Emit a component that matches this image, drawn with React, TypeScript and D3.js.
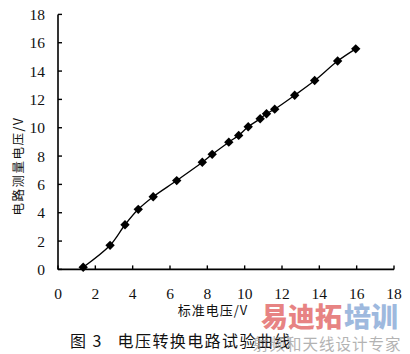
import React from "react";
import * as d3 from "d3";

const xValues = [1.35, 2.79, 3.59, 4.3, 5.1, 6.36, 7.73, 8.26, 9.15, 9.68, 10.19, 10.83, 11.17, 11.61, 12.68, 13.75, 14.98, 15.95];
const yValues = [0.15, 1.7, 3.15, 4.24, 5.13, 6.27, 7.56, 8.12, 8.98, 9.46, 10.07, 10.63, 10.99, 11.31, 12.29, 13.33, 14.71, 15.57];
const xTicks = [0, 2, 4, 6, 8, 10, 12, 14, 16, 18];
const yTicks = [0, 2, 4, 6, 8, 10, 12, 14, 16, 18];
const xLabel = "标准电压/V";
const yLabel = "电路测量电压/V";
const caption = "图 3   电压转换电路试验曲线";
const wmRed = "易迪拓";
const wmBlue = "培训";
const wmSub = "射频和天线设计专家";

const W = 410;
const H = 354;

export default function App() {
  const x = d3.scaleLinear().domain([0, 18]).range([58, 394]);
  const y = d3.scaleLinear().domain([0, 18]).range([269.4, 14.4]);
  const pts = xValues.map((v, i) => [v, yValues[i]] as [number, number]);
  const line = d3
    .line<[number, number]>()
    .x((d) => x(d[0]))
    .y((d) => y(d[1]))
    .curve(d3.curveCatmullRom.alpha(0.5));
  const sym = d3.symbol().type(d3.symbolSquare).size(44)();
  const num = "'Liberation Serif', 'Times New Roman', 'DejaVu Serif', serif";
  const cjk = "'Noto Sans CJK SC', sans-serif";
  return (
    <div style={{ position: "absolute", left: 0, top: 0 }}>
      <svg width={W} height={H} style={{ display: "block", background: "#fff" }}>
        <rect x={0} y={0} width={W} height={H} fill="#fff" />
        <line x1={x(0)} x2={x(0)} y1={y(18)} y2={y(0)} stroke="#000" strokeWidth={1.6} />
        <line x1={x(0)} x2={x(18)} y1={y(0)} y2={y(0)} stroke="#000" strokeWidth={1.6} />
        {yTicks.map((t) => (
          <g key={"y" + t}>
            <line x1={x(0)} x2={x(0) + 4} y1={y(t)} y2={y(t)} stroke="#000" strokeWidth={1.4} />
            <text x={45} y={y(t)} dy="0.36em" textAnchor="end" style={{ fontFamily: num }} fontSize={15.5} fill="#111">
              {t}
            </text>
          </g>
        ))}
        {xTicks.map((t) => (
          <g key={"x" + t}>
            <line x1={x(t)} x2={x(t)} y1={y(0)} y2={y(0) - 4} stroke="#000" strokeWidth={1.4} />
            <text x={x(t)} y={293} dy="0.36em" textAnchor="middle" style={{ fontFamily: num }} fontSize={15.5} fill="#111">
              {t}
            </text>
          </g>
        ))}
        <path d={line(pts) || ""} fill="none" stroke="#000" strokeWidth={1.3} />
        {pts.map((p, i) => (
          <path key={i} d={sym || ""} transform={`translate(${x(p[0])},${y(p[1])}) rotate(45)`} fill="#000" />
        ))}
        <text
          transform={`translate(19,166) rotate(-90)`}
          textAnchor="middle"
          dy="0.35em"
          style={{ fontFamily: cjk }}
          fontSize={12.5}
          letterSpacing={1.5}
          fill="#111"
        >
          {yLabel}
        </text>
        <text x={213} y={310} dy="0.35em" textAnchor="middle" style={{ fontFamily: cjk }} fontSize={13} letterSpacing={1} fill="#111">
          {xLabel}
        </text>
        <text x={70} y={341} dy="0.35em" style={{ fontFamily: cjk, whiteSpace: "pre" }} fontSize={16} letterSpacing={1.4} fill="#111">
          {caption}
        </text>
        <g opacity={0.75}>
          <text x={261} y={317} dy="0.36em" style={{ fontFamily: cjk }} fontWeight={900} fontSize={27} fill="#e05a5a">
            {wmRed}
          </text>
          <text x={344} y={317} dy="0.36em" style={{ fontFamily: cjk }} fontWeight={900} fontSize={27} fill="#7ea2d4">
            {wmBlue}
          </text>
          <text x={253} y={344} dy="0.36em" style={{ fontFamily: cjk }} fontSize={15.5} letterSpacing={1} fill="#9a9a9a">
            {wmSub}
          </text>
        </g>
      </svg>
    </div>
  );
}
